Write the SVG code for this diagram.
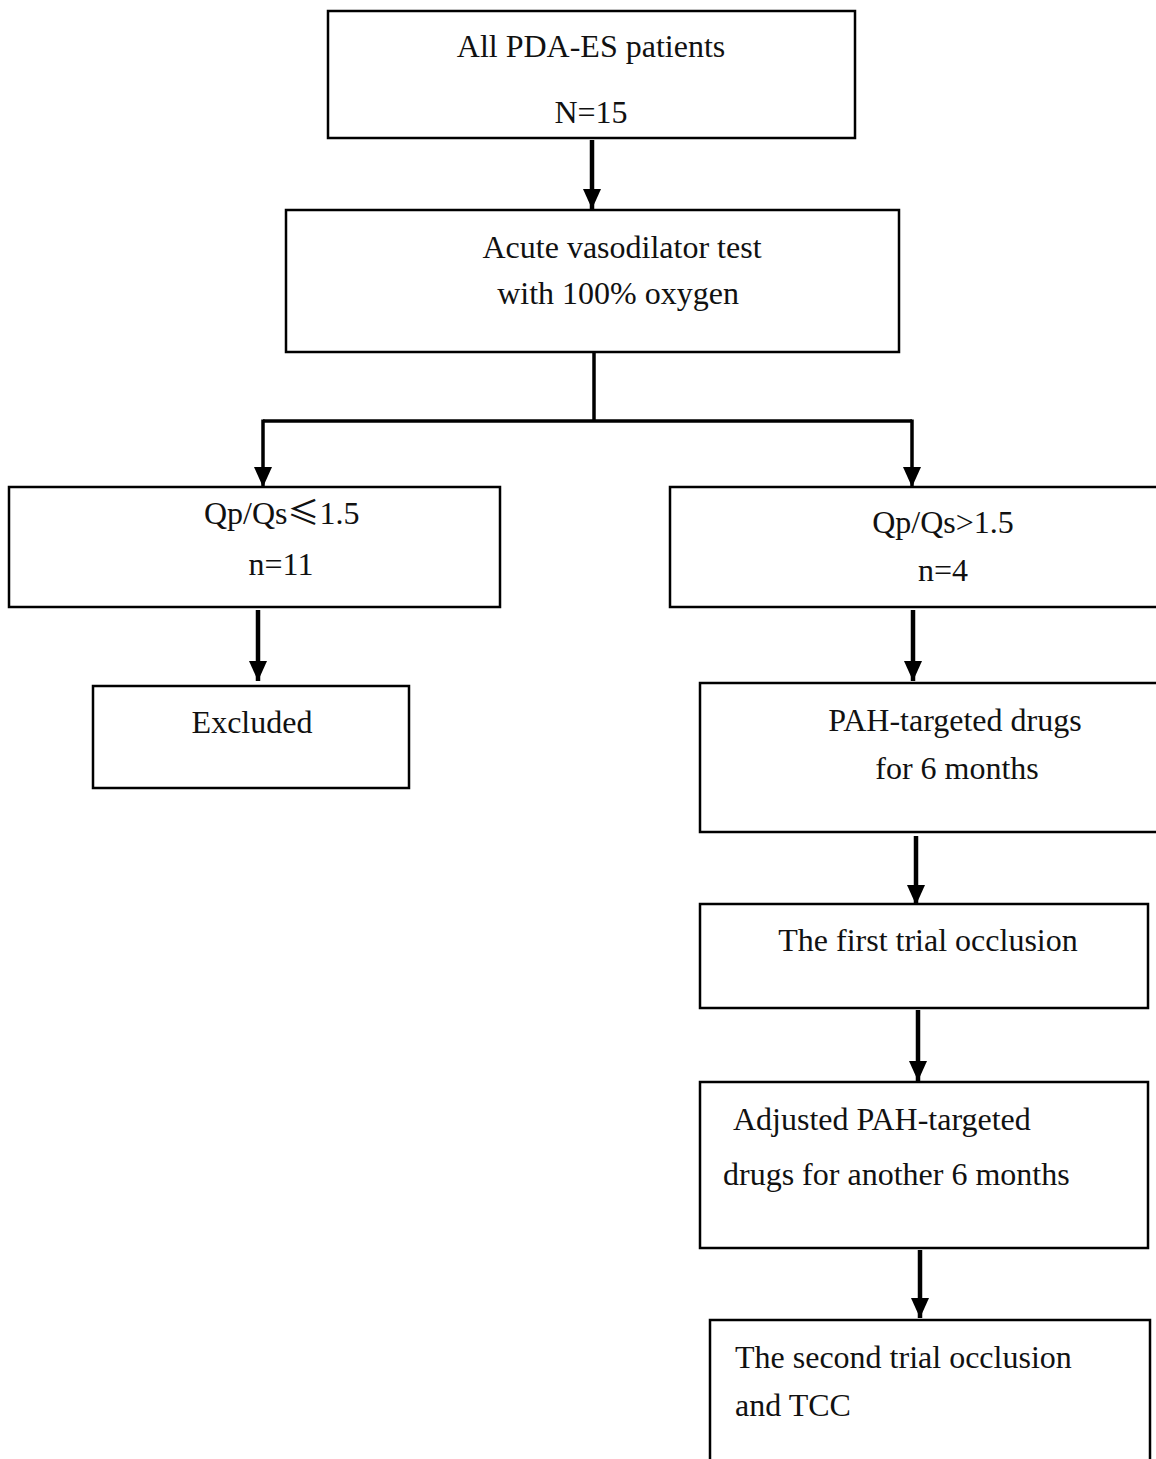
<svg xmlns="http://www.w3.org/2000/svg" width="1156" height="1459" viewBox="0 0 1156 1459">
<style>
.b{fill:#fff;stroke:#000;stroke-width:2.5}
.t{font-family:"Liberation Serif","Times New Roman",serif;font-size:32px;fill:#111}
.c{text-anchor:middle}
.l{fill:none;stroke:#000;stroke-width:4.5}
.thin{fill:none;stroke:#000;stroke-width:3.5}
</style>
<defs>
<marker id="a" markerUnits="userSpaceOnUse" markerWidth="20" markerHeight="20" refX="20" refY="10" orient="auto" viewBox="0 0 20 20">
<path d="M0,1 L20,10 L0,19 Z" fill="#000"/>
</marker>
</defs>
<rect width="1156" height="1459" fill="#fff"/>
<g id="connectors">
<line class="l" x1="592" y1="140" x2="592" y2="209" marker-end="url(#a)"/>
<polyline class="thin" points="594,352 594,421"/>
<polyline class="thin" points="263,421 912,421"/>
<line class="thin" x1="263" y1="419.5" x2="263" y2="487" marker-end="url(#a)"/>
<line class="thin" x1="912" y1="419.5" x2="912" y2="487" marker-end="url(#a)"/>
<line class="l" x1="258" y1="610" x2="258" y2="681" marker-end="url(#a)"/>
<line class="l" x1="913" y1="610" x2="913" y2="681" marker-end="url(#a)"/>
<line class="l" x1="916" y1="836" x2="916" y2="905" marker-end="url(#a)"/>
<line class="l" x1="918" y1="1010" x2="918" y2="1081" marker-end="url(#a)"/>
<line class="l" x1="920" y1="1250" x2="920" y2="1318" marker-end="url(#a)"/>
</g>
<g id="n1">
<rect class="b" x="328" y="11" width="527" height="127"/>
<text class="t c" x="591" y="57">All PDA-ES patients</text>
<text class="t c" x="591" y="123">N=15</text>
</g>
<g id="n2">
<rect class="b" x="286" y="210" width="613" height="142"/>
<text class="t c" x="622" y="258">Acute vasodilator test</text>
<text class="t c" x="618" y="304">with 100% oxygen</text>
</g>
<g id="n3">
<rect class="b" x="9" y="487" width="491" height="120"/>
<text class="t" x="204" y="524">Qp/Qs<tspan font-family="'Noto Sans CJK SC',sans-serif">≤</tspan>1.5</text>
<text class="t c" x="281" y="575">n=11</text>
</g>
<g id="n4">
<rect class="b" x="670" y="487" width="500" height="120"/>
<text class="t c" x="943" y="533">Qp/Qs&gt;1.5</text>
<text class="t c" x="943" y="581">n=4</text>
</g>
<g id="n5">
<rect class="b" x="93" y="686" width="316" height="102"/>
<text class="t c" x="252" y="733">Excluded</text>
</g>
<g id="n6">
<rect class="b" x="700" y="683" width="470" height="149"/>
<text class="t c" x="955" y="731">PAH-targeted drugs</text>
<text class="t c" x="957" y="779">for 6 months</text>
</g>
<g id="n7">
<rect class="b" x="700" y="904" width="448" height="104"/>
<text class="t c" x="928" y="951">The first trial occlusion</text>
</g>
<g id="n8">
<rect class="b" x="700" y="1082" width="448" height="166"/>
<text class="t" x="733" y="1130">Adjusted PAH-targeted</text>
<text class="t" x="723" y="1185">drugs for another 6 months</text>
</g>
<g id="n9">
<rect class="b" x="710" y="1320" width="440" height="160"/>
<text class="t" x="735" y="1368">The second trial occlusion</text>
<text class="t" x="735" y="1416">and TCC</text>
</g>
</svg>
